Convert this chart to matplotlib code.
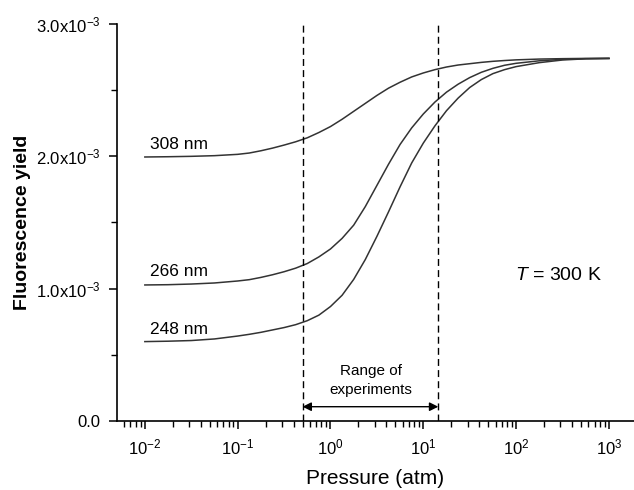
import numpy as np
import matplotlib
matplotlib.use("Agg")
import matplotlib.pyplot as plt
from matplotlib.ticker import FixedLocator, LogLocator, NullFormatter


plt.rcParams['font.family'] = ['Liberation Sans', 'DejaVu Sans']
plt.rcParams['mathtext.fontset'] = 'custom'
plt.rcParams['mathtext.rm'] = 'Liberation Sans'
plt.rcParams['mathtext.it'] = 'Liberation Sans:italic'


# Data (yield in units of 1e-3, pressure as log10(atm))
log_p = [-2.0, -1.75, -1.5, -1.25, -1.0, -0.875, -0.75, -0.625, -0.5, -0.375, -0.25,
         -0.125, 0.0, 0.125, 0.25, 0.375, 0.5, 0.625, 0.75, 0.875, 1.0, 1.125, 1.25,
         1.375, 1.5, 1.625, 1.75, 1.875, 2.0, 2.25, 2.5, 2.75, 3.0]

yield_308 = [1.995, 1.997, 2.000, 2.005, 2.015, 2.025, 2.042, 2.062, 2.085, 2.110, 2.140,
             2.180, 2.225, 2.280, 2.340, 2.400, 2.460, 2.515, 2.560, 2.600, 2.630, 2.655,
             2.675, 2.690, 2.700, 2.710, 2.718, 2.724, 2.729, 2.735, 2.738, 2.740, 2.740]
yield_266 = [1.028, 1.030, 1.035, 1.043, 1.058, 1.068, 1.085, 1.105, 1.128, 1.155, 1.190,
             1.240, 1.300, 1.380, 1.480, 1.620, 1.780, 1.940, 2.090, 2.215, 2.320, 2.410,
             2.485, 2.545, 2.595, 2.635, 2.665, 2.688, 2.703, 2.722, 2.733, 2.738, 2.740]
yield_248 = [0.600, 0.603, 0.608, 0.620, 0.642, 0.655, 0.670, 0.688, 0.706, 0.728, 0.758,
             0.800, 0.865, 0.950, 1.070, 1.220, 1.395, 1.580, 1.770, 1.950, 2.100, 2.230,
             2.345, 2.440, 2.520, 2.580, 2.625, 2.655, 2.678, 2.708, 2.728, 2.737, 2.740]

curve_labels = ["308 nm", "266 nm", "248 nm"]
label_y = [2.09, 1.13, 0.69]

exp_range = [0.5, 14.5]   # atm, dashed lines

y_ticks = [0.0, 1.0e-3, 2.0e-3, 3.0e-3]
y_tick_labels = ["0.0", r"1.0x10$^{-3}$", r"2.0x10$^{-3}$", r"3.0x10$^{-3}$"]
x_ticks = [1e-2, 1e-1, 1e0, 1e1, 1e2, 1e3]
x_tick_labels = [r"10$^{-2}$", r"10$^{-1}$", r"10$^{0}$", r"10$^{1}$", r"10$^{2}$", r"10$^{3}$"]


fig = plt.figure(figsize=(6.34, 4.90), dpi=100)
ax = fig.add_axes([117 / 634, 69 / 490, 517 / 634, 397 / 490])

pressure = 10 ** np.array(log_p)
for ys in (yield_308, yield_266, yield_248):
    ax.plot(pressure, np.array(ys) * 1e-3, color='#333333', lw=1.1)

for text, yv in zip(curve_labels, label_y):
    ax.text(0.0115, yv * 1e-3, text, fontsize=12.5, va='center', ha='left')

# experiment range
for xv in exp_range:
    ax.plot([xv, xv], [0, 3.0e-3], color='black', lw=1.0, ls=(0, (5, 3)))
ax.annotate('', xy=(exp_range[0], 0.108e-3), xytext=(exp_range[1], 0.108e-3),
            arrowprops=dict(arrowstyle='<|-|>', color='black', lw=1.0,
                            mutation_scale=13, shrinkA=0, shrinkB=0))
ax.text(2.7, 0.305e-3, "Range of\nexperiments", fontsize=11, ha='center', va='center',
        linespacing=1.45)

ax.text(285, 1.10e-3, r"$\it{T}$ = 300 K", fontsize=14, ha='center', va='center')

ax.set_xscale('log')
ax.set_xlim(10 ** -2.3, 10 ** 3.27)
ax.set_ylim(0, 3.0e-3)

ax.set_xticks(x_ticks)
ax.set_xticklabels(x_tick_labels, fontsize=12)
ax.xaxis.set_minor_locator(LogLocator(base=10, subs=np.arange(2, 10), numticks=20))
ax.xaxis.set_minor_formatter(NullFormatter())
ax.set_yticks(y_ticks)
ax.set_yticklabels(y_tick_labels, fontsize=12)
ax.yaxis.set_minor_locator(FixedLocator([0.5e-3, 1.5e-3, 2.5e-3]))

ax.tick_params(which='major', direction='out', length=6, width=1.1, pad=6)
ax.tick_params(which='minor', direction='out', length=4, width=1.0)

for side in ('top', 'right'):
    ax.spines[side].set_visible(False)
for side in ('left', 'bottom'):
    ax.spines[side].set_linewidth(1.2)

ax.set_xlabel("Pressure (atm)", fontsize=15, labelpad=8)
ax.set_ylabel("Fluorescence yield", fontsize=14, fontweight='bold', labelpad=3)

fig.savefig("out.png", dpi=100)
